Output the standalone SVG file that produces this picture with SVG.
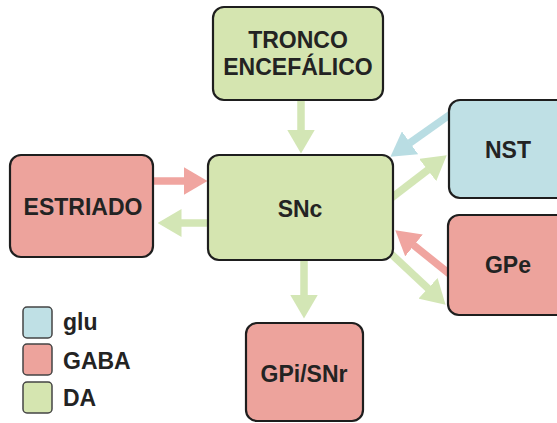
<svg xmlns="http://www.w3.org/2000/svg" width="557" height="423" viewBox="0 0 557 423">
<style>
.box{stroke:#1e1e1e;stroke-width:2.2}
.g{fill:#d5e5b0}.r{fill:#eda39c}.b{fill:#bfe0e5}
.t{font-family:"Liberation Sans",Arial,sans-serif;font-weight:bold;font-size:23px;fill:#232323;text-anchor:middle}
.lt{font-family:"Liberation Sans",Arial,sans-serif;font-weight:bold;font-size:23px;fill:#232323}
.sq{stroke:#444;stroke-width:1.5}
.ag{stroke:#d3e6b5;stroke-width:7.5;fill:none}
.ar{stroke:#f0a5a0;stroke-width:7.5;fill:none}
.ab{stroke:#b9dde3;stroke-width:7.5;fill:none}
</style>
<defs>
<marker id="hg" markerUnits="userSpaceOnUse" viewBox="0 0 24 28" refX="0.5" refY="14" markerWidth="24" markerHeight="28" orient="auto"><path d="M0,0 L24,14 L0,28 z" fill="#d3e6b5"/></marker>
<marker id="hr" markerUnits="userSpaceOnUse" viewBox="0 0 24 28" refX="0.5" refY="14" markerWidth="24" markerHeight="28" orient="auto"><path d="M0,0 L24,14 L0,28 z" fill="#f0a5a0"/></marker>
<marker id="hb" markerUnits="userSpaceOnUse" viewBox="0 0 24 28" refX="0.5" refY="14" markerWidth="24" markerHeight="28" orient="auto"><path d="M0,0 L24,14 L0,28 z" fill="#b9dde3"/></marker>
</defs>
<rect width="557" height="423" fill="#ffffff"/>
<g id="connectors">
<line class="ag" x1="301" y1="100" x2="301" y2="130" marker-end="url(#hg)"/>
<line class="ag" x1="304" y1="260" x2="304" y2="295" marker-end="url(#hg)"/>
<line class="ar" x1="153" y1="181" x2="184" y2="181" marker-end="url(#hr)"/>
<line class="ag" x1="208" y1="223" x2="181" y2="223" marker-end="url(#hg)"/>
<line class="ab" x1="455" y1="111" x2="409.6" y2="143.1" marker-end="url(#hb)"/>
<line class="ag" x1="390" y1="199" x2="428.1" y2="169.7" marker-end="url(#hg)"/>
<line class="ar" x1="452" y1="276" x2="413.6" y2="245.1" marker-end="url(#hr)"/>
<line class="ag" x1="388" y1="251" x2="428.4" y2="288.7" marker-end="url(#hg)"/>
</g>
<g id="tronco">
<rect class="box g" x="213" y="7" width="170" height="93" rx="11"/>
<text class="t" x="298" y="48">TRONCO</text>
<text class="t" x="298" y="75">ENCEFÁLICO</text>
</g>
<g id="snc">
<rect class="box g" x="208" y="155" width="185" height="105" rx="11"/>
<text class="t" x="300" y="217">SNc</text>
</g>
<g id="estriado">
<rect class="box r" x="10" y="155" width="143" height="102" rx="11"/>
<text class="t" x="83" y="215">ESTRIADO</text>
</g>
<g id="nst">
<rect class="box b" x="449" y="100" width="125" height="98" rx="11"/>
<text class="t" x="508" y="158">NST</text>
</g>
<g id="gpe">
<rect class="box r" x="448" y="215" width="125" height="100" rx="11"/>
<text class="t" x="508" y="273">GPe</text>
</g>
<g id="gpi">
<rect class="box r" x="246" y="323" width="117" height="98" rx="11"/>
<text class="t" x="304" y="382">GPi/SNr</text>
</g>
<g id="legend">
<rect class="sq b" x="23" y="307" width="29" height="31" rx="4"/>
<text class="lt" x="63" y="330">glu</text>
<rect class="sq r" x="23" y="344" width="29" height="31" rx="4"/>
<text class="lt" x="63" y="369">GABA</text>
<rect class="sq g" x="23" y="382" width="29" height="31" rx="4"/>
<text class="lt" x="63" y="406">DA</text>
</g>
</svg>
